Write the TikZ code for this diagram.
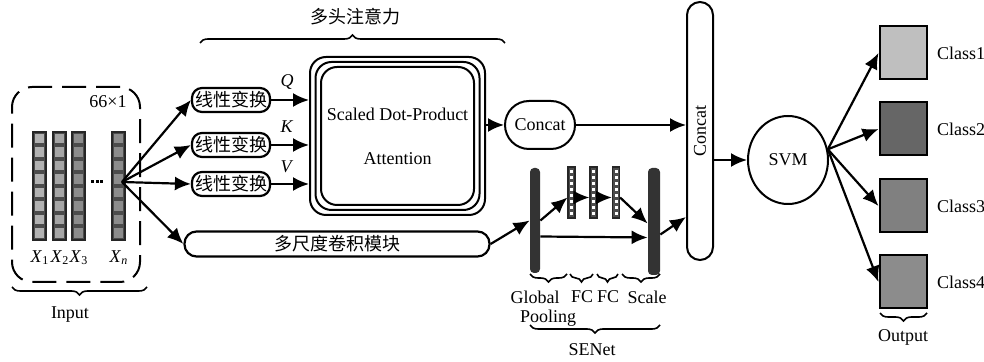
\documentclass[tikz,border=0pt]{standalone}
\usepackage{fontspec}
\setmainfont{Liberation Serif}
\newfontfamily\cjk{Noto Sans CJK SC}
\usepackage{graphicx}
\usetikzlibrary{arrows.meta,shapes.geometric,decorations.pathreplacing}
\tikzset{
  arr/.style={-{Latex[length=8pt,width=7pt]}, line width=1.1pt},
  linbox/.style={draw, line width=1.1pt, rounded corners=5pt, minimum width=39pt, minimum height=12pt, inner sep=0pt},
  attbox/.style={draw, line width=1pt, rounded corners=8pt, inner sep=0pt},
  featcol/.style={draw=black!85, fill=black!70, line width=.6pt, minimum width=6.5pt, minimum height=54pt, inner sep=0pt},
  fccol/.style={draw=black!85, fill=black!70, line width=.6pt, minimum width=3.5pt, minimum height=25.5pt, inner sep=0pt},
  secol/.style={fill=black!80, rounded corners=2pt, inner sep=0pt},
  classbox/.style={draw, line width=1pt, minimum width=23.5pt, minimum height=26.5pt, inner sep=0pt},
  brc/.style={decorate, decoration={brace, amplitude=4pt}, line width=.8pt},
  brcb/.style={brc, decoration={mirror}},
}
\begin{document}
\begin{tikzpicture}[x=0.5pt, y=-0.5pt, font=\fontsize{9}{11}\selectfont]
  \useasboundingbox (0,0) rectangle (984,362);

  % Draw the input block
  \node[draw, dashed, dash pattern=on 12pt off 5pt, line width=1pt, rounded corners=10pt, minimum width=64pt, minimum height=97.5pt] (inbox) at (76,184.5) {};
  \node (dim) at (108,102) {66×1};
  \foreach \n/\cx/\shade in {x1/39.5/30, x2/59.5/35, x3/78.5/45, xn/118.5/45}{
    \node[featcol] (\n) at (\cx,186) {};
    \foreach \k in {0,...,7}
      \fill[black!\shade] (\cx-4.5,134+13.5*\k) rectangle +(9,9.5);
  }
  \foreach \dx in {91,95.5,100}
    \fill (\dx,180) rectangle +(3,3);
  \node (lx1) at (40,258) {\textit{X}\textsubscript{1}};
  \node (lx2) at (60,258) {\textit{X}\textsubscript{2}};
  \node (lx3) at (79,258) {\textit{X}\textsubscript{3}};
  \node (lxn) at (119,258) {\textit{X}\textsubscript{\textit{n}}};
  \draw[brcb] (12,287) -- (147,287);
  \node (inlab) at (70,315) {Input};
  \coordinate (src) at (122,182);

  % Draw the linear layers and the multi-scale block
  \node[linbox] (lin1) at (231,100) {\cjk 线性变换};
  \node[linbox] (lin2) at (231,145) {\cjk 线性变换};
  \node[linbox] (lin3) at (231,184) {\cjk 线性变换};
  \node[draw, line width=1.1pt, rounded corners=6pt, minimum width=152.5pt, minimum height=12.5pt, inner sep=0pt] (msc) at (337,244) {\cjk 多尺度卷积模块};
  \draw[arr] (src) -- (lin1.west);
  \draw[arr] (src) -- (lin2.west);
  \draw[arr] (src) -- (lin3.west);
  \draw[arr] (src) -- (msc.west);

  % Draw the attention stack
  \node[attbox, minimum width=87.5pt, minimum height=79pt] (att3) at (397.5,136) {};
  \node[attbox, minimum width=82pt, minimum height=74pt] (att2) at (397.5,136) {};
  \node[attbox, minimum width=76.5pt, minimum height=69pt, align=center] (att) at (397.5,136) {Scaled Dot-Product\\[11pt]Attention};
  \draw[arr] (lin1.east) -- (lin1.east -| att3.west);
  \draw[arr] (lin2.east) -- (lin2.east -| att3.west);
  \draw[arr] (lin3.east) -- (lin3.east -| att3.west);
  \node (lq) at (287,82) {\textit{Q}};
  \node (lk) at (287,127) {\textit{K}};
  \node (lv) at (287,167) {\textit{V}};
  \draw[brc] (200,43) -- (505,43);
  \node (mha) at (355,17) {\cjk 多头注意力};

  % Draw the concat blocks
  \node[draw, line width=1pt, rounded corners=12pt, minimum width=35pt, minimum height=24pt, inner sep=0pt] (cat1) at (540,125) {Concat};
  \draw[arr] (cat1.west -| att3.east) -- (cat1.west);
  \node[draw, line width=1pt, rounded corners=6.5pt, minimum width=13pt, minimum height=129pt, inner sep=0pt] (cat2) at (700,131) {\rotatebox{90}{Concat}};
  \draw[arr] (cat1.east) -- (cat1.east -| cat2.west);

  % Draw the SENet part
  \node[secol, minimum width=5pt, minimum height=52.5pt] (gp) at (535,220.5) {};
  \foreach \n/\cx in {fc1/571.5, fc2/593.5, fc3/616}{
    \node[fccol] (\n) at (\cx,192.5) {};
    \foreach \k in {0,...,7}
      \fill[white] (\cx-1.5,170+6*\k) rectangle +(3,3.5);
  }
  \node[secol, minimum width=6pt, minimum height=53.5pt] (sc) at (654,221.5) {};
  \draw[arr] (msc.east) -- (gp.west);
  \draw[arr] (gp.east) -- ([yshift=-2.5pt]fc1.west);
  \draw[arr] ([yshift=-2.5pt]fc1.east) -- ([yshift=-2.5pt]fc2.west);
  \draw[arr] ([yshift=-2.5pt]fc2.east) -- ([yshift=-2.5pt]fc3.west);
  \draw[arr] ([yshift=-2.5pt]fc3.east) -- ([yshift=-1pt]sc.west);
  \draw[arr] ([yshift=-8pt]gp.east) -- ([yshift=-8pt]sc.west);
  \draw[arr] ([yshift=-6.5pt]sc.east) -- ([yshift=-43pt]cat2.west);
  \draw[brcb] (530,274) -- (567,274);
  \draw[brcb] (570,274) -- (593,274);
  \draw[brcb] (597,274) -- (618,274);
  \draw[brcb] (622,274) -- (660,274);
  \node (lgp) at (535,297) {Global};
  \node (lpool) at (548,318) {Pooling};
  \node (lfc1) at (582,297) {FC};
  \node (lfc2) at (608,297) {FC};
  \node (lsc) at (647,297) {Scale};
  \draw[brcb] (530,325) -- (660,325);
  \node (lse) at (592,350) {SENet};

  % Draw the classifier and the outputs
  \node[draw, ellipse, line width=1pt, minimum width=40pt, minimum height=44pt, inner sep=0pt] (svm) at (788,160) {SVM};
  \draw[arr] (svm.west -| cat2.east) -- (svm.west);
  \foreach \n/\cy/\shade/\t in {c1/53/25/Class1, c2/129/60/Class2, c3/206/50/Class3, c4/282/45/Class4}{
    \node[classbox, fill=black!\shade] (\n) at (903,\cy) {};
    \node[right] (\n-lab) at (930,\cy) {\t};
    \draw[arr] (svm.15) -- (\n.west);
  }
  \draw[brcb] (880,313) -- (927,313);
  \node (outlab) at (903,337) {Output};
\end{tikzpicture}
\end{document}
